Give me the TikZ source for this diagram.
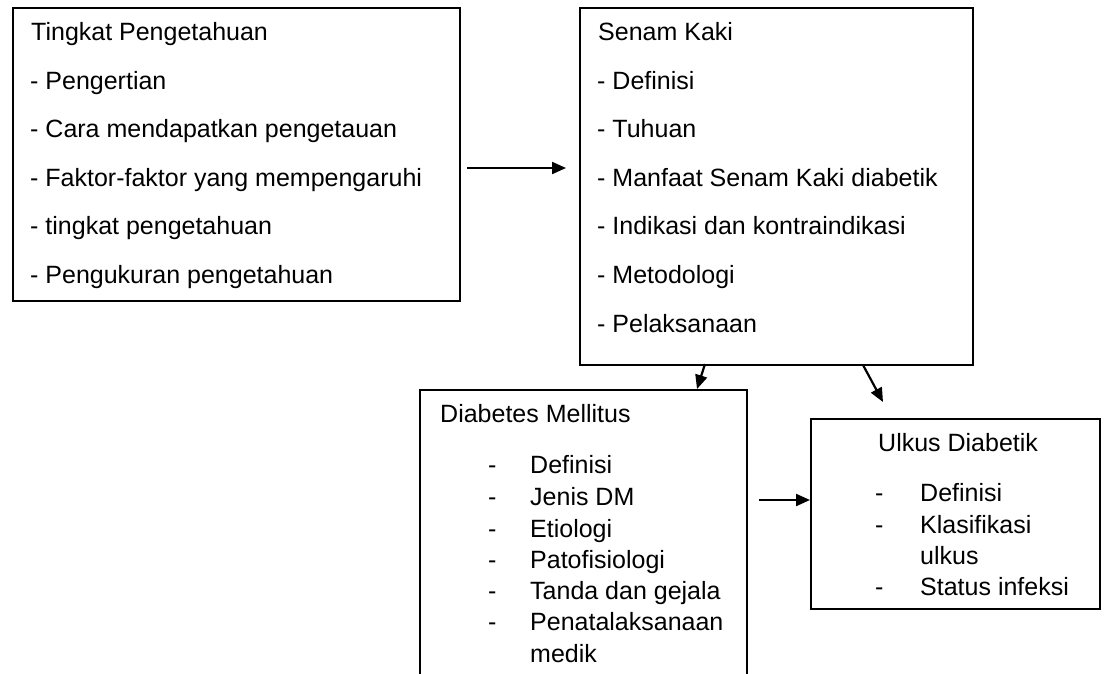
\documentclass[tikz,border=0pt]{standalone}
\usepackage{fontspec}
\setmainfont{Liberation Sans}
\usetikzlibrary{arrows.meta}
\begin{document}
\begin{tikzpicture}[x=1pt,y=-1pt,
  boxst/.style={draw, line width=2pt, rectangle, inner sep=0pt, anchor=north west},
  txt/.style={anchor=base west, inner sep=0pt, font=\fontsize{25}{30}\selectfont},
  arr/.style={line width=2.2pt, -{Triangle[length=14pt,width=12pt]}}]
\clip (0,0) rectangle (1104,673);
\fill[white] (0,0) rectangle (1104,673);

% boxes
\node[boxst, minimum width=447pt, minimum height=293pt] (tp) at (12,7) {};
\node[boxst, minimum width=393pt, minimum height=357pt] (sk) at (579,7) {};
\node[anchor=north west, inner sep=0pt, minimum width=327pt, minimum height=330pt] (dm) at (420,390) {};
\draw[line width=2pt] (dm.south west) -- (dm.north west) -- (dm.north east) -- (dm.south east);
\node[boxst, minimum width=289pt, minimum height=190pt] (ud) at (810,418) {};

% Tingkat Pengetahuan
\node[txt] (tp0) at (31,40) {Tingkat Pengetahuan};
\node[txt] (tp1) at (30,89) {- Pengertian};
\node[txt] (tp2) at (30,137) {- Cara mendapatkan pengetauan};
\node[txt] (tp3) at (30,186) {- Faktor-faktor yang mempengaruhi};
\node[txt] (tp4) at (30,234) {- tingkat pengetahuan};
\node[txt] (tp5) at (30,283) {- Pengukuran pengetahuan};

% Senam Kaki
\node[txt] (sk0) at (598,40) {Senam Kaki};
\node[txt] (sk1) at (597,89) {- Definisi};
\node[txt] (sk2) at (597,137) {- Tuhuan};
\node[txt] (sk3) at (597,186) {- Manfaat Senam Kaki diabetik};
\node[txt] (sk4) at (597,234) {- Indikasi dan kontraindikasi};
\node[txt] (sk5) at (597,283) {- Metodologi};
\node[txt] (sk6) at (597,332) {- Pelaksanaan};

% Diabetes Mellitus
\node[txt] (dm0) at (440,422) {Diabetes Mellitus};
\node[txt] (dmd1) at (488,473) {-};
\node[txt] (dm1) at (530,473) {Definisi};
\node[txt] (dmd2) at (488,505) {-};
\node[txt] (dm2) at (530,505) {Jenis DM};
\node[txt] (dmd3) at (488,537) {-};
\node[txt] (dm3) at (530,537) {Etiologi};
\node[txt] (dmd4) at (488,568) {-};
\node[txt] (dm4) at (530,568) {Patofisiologi};
\node[txt] (dmd5) at (488,599) {-};
\node[txt] (dm5) at (530,599) {Tanda dan gejala};
\node[txt] (dmd6) at (488,630) {-};
\node[txt] (dm6) at (530,630) {Penatalaksanaan};
\node[txt] (dm7) at (530,662) {medik};

% Ulkus Diabetik
\node[txt] (ud0) at (878,451) {Ulkus Diabetik};
\node[txt] (udd1) at (875,501) {-};
\node[txt] (ud1) at (920,501) {Definisi};
\node[txt] (udd2) at (875,533) {-};
\node[txt] (ud2) at (920,533) {Klasifikasi};
\node[txt] (ud3) at (920,564) {ulkus};
\node[txt] (udd4) at (875,595) {-};
\node[txt] (ud4) at (920,595) {Status infeksi};

% connectors
\coordinate (a1s) at (467,168);
\coordinate (a1e) at (566,168);
\coordinate (a2s) at (705,364);
\coordinate (a3s) at (863,365);
\coordinate (a3e) at (883,402);
\coordinate (a4s) at (759,500);
\draw[arr] (a1s) -- (a1e);
\draw[arr] (a2s) -- (697,389);
\draw[arr] (a3s) -- (a3e);
\draw[arr] (a4s) -- (ud.west |- a4s);
\end{tikzpicture}
\end{document}
